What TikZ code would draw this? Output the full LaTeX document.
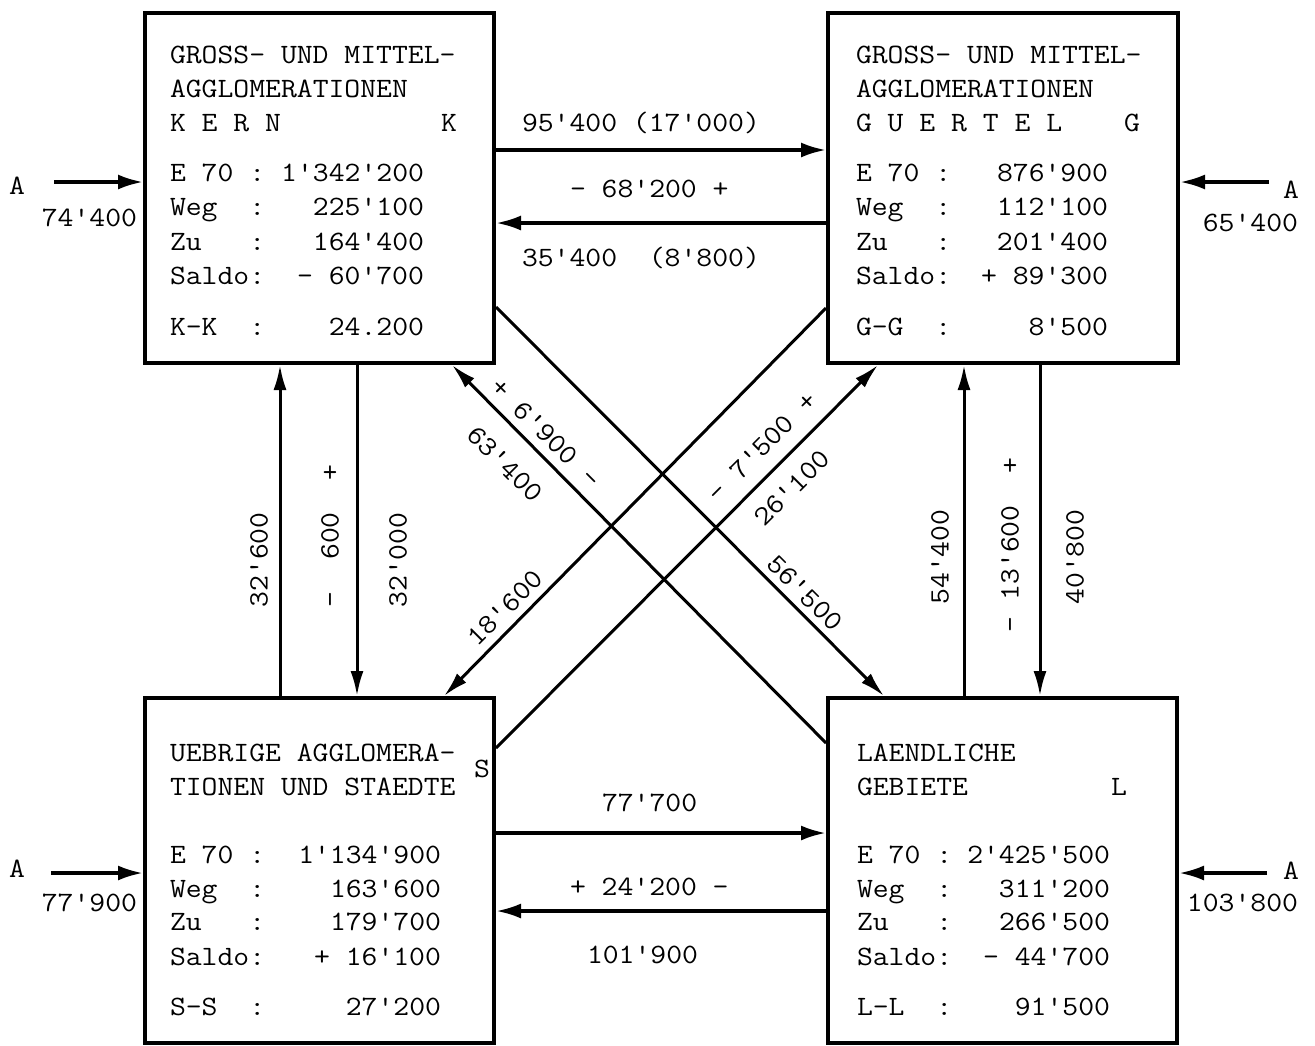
\documentclass[tikz,border=0pt]{standalone}
\usepackage{fontspec}
\setmonofont{Latin Modern Mono}[FakeStretch=1.1]
\usetikzlibrary{arrows.meta}
\tikzset{
  box/.style={draw, line width=4pt, inner sep=0pt, outer sep=2pt},
  txt/.style={font=\ttfamily\fontsize{28}{34}\selectfont, inner sep=0pt, outer sep=0pt},
  hconn/.style={line width=3.5pt, -{Latex[length=25pt,width=15pt]}},
  conn/.style={line width=3pt, -{Latex[length=25pt,width=13pt]}},
}
\newcommand\trow[6]{%
  \node[txt,anchor=base west] (#1l) at (#2,#3) {#4};
  \node[txt,anchor=base east] (#1v) at (#5,#3) {#6};}
\begin{document}
\begin{tikzpicture}[x=1pt,y=-1pt]
\useasboundingbox (0,0) rectangle (1315,1045);

% boxes
\node[box, minimum width=349pt, minimum height=350pt] (K) at (319.5,188) {};
\node[box, minimum width=350pt, minimum height=350pt] (G) at (1003,188) {};
\node[box, minimum width=349pt, minimum height=345pt] (S) at (319.5,870.5) {};
\node[box, minimum width=349pt, minimum height=345pt] (L) at (1002.5,870.5) {};

% box K text
\node[txt,anchor=base west] (kh1) at (170,63) {GROSS- UND MITTEL-};
\node[txt,anchor=base west] (kh2) at (170,97) {AGGLOMERATIONEN};
\node[txt,anchor=base west] (kh3) at (170,131) {K E R N};
\node[txt,anchor=base east] (kh4) at (457,131) {K};
\trow{k1}{170}{181}{E 70 :}{424}{1'342'200}
\trow{k2}{170}{215}{Weg\ \ :}{424}{225'100}
\trow{k3}{170}{250}{Zu\ \ \ :}{424}{164'400}
\trow{k4}{170}{284}{Saldo:}{424}{- 60'700}
\trow{k5}{170}{335}{K-K\ \ :}{424}{24.200}

% box G text
\node[txt,anchor=base west] (gh1) at (856,63) {GROSS- UND MITTEL-};
\node[txt,anchor=base west] (gh2) at (856,97) {AGGLOMERATIONEN};
\node[txt,anchor=base west] (gh3) at (856,131) {G U E R T E L};
\node[txt,anchor=base east] (gh4) at (1140,131) {G};
\trow{g1}{856}{181}{E 70 :}{1108}{876'900}
\trow{g2}{856}{215}{Weg\ \ :}{1108}{112'100}
\trow{g3}{856}{250}{Zu\ \ \ :}{1108}{201'400}
\trow{g4}{856}{284}{Saldo:}{1108}{+ 89'300}
\trow{g5}{856}{335}{G-G\ \ :}{1108}{8'500}

% box S text
\node[txt,anchor=base west] (sh1) at (170,761) {UEBRIGE AGGLOMERA-};
\node[txt,anchor=base west] (sh2) at (170,795) {TIONEN UND STAEDTE};
\node[txt,anchor=base east] (sh3) at (490,777) {S};
\trow{s1}{170}{863}{E 70 :}{441}{1'134'900}
\trow{s2}{170}{897}{Weg\ \ :}{441}{163'600}
\trow{s3}{170}{930}{Zu\ \ \ :}{441}{179'700}
\trow{s4}{170}{965}{Saldo:}{441}{+ 16'100}
\trow{s5}{170}{1015}{S-S\ \ :}{441}{27'200}

% box L text
\node[txt,anchor=base west] (lh1) at (857,761) {LAENDLICHE};
\node[txt,anchor=base west] (lh2) at (857,795) {GEBIETE};
\node[txt,anchor=base east] (lh3) at (1127,795) {L};
\trow{l1}{857}{863}{E 70 :}{1110}{2'425'500}
\trow{l2}{857}{897}{Weg\ \ :}{1110}{311'200}
\trow{l3}{857}{930}{Zu\ \ \ :}{1110}{266'500}
\trow{l4}{857}{965}{Saldo:}{1110}{- 44'700}
\trow{l5}{857}{1015}{L-L\ \ :}{1110}{91'500}

% helper coordinates
\coordinate (hKG) at (0,150);
\coordinate (hGK) at (0,223);
\coordinate (hSL) at (0,833);
\coordinate (hLS) at (0,911);
\coordinate (v1) at (280,0);
\coordinate (v2) at (357,0);
\coordinate (v3) at (964,0);
\coordinate (v4) at (1040,0);
\coordinate (d1s) at (0,307);
\coordinate (d1e) at (884,0);
\coordinate (d2s) at (0,743);
\coordinate (d2e) at (452,0);
\coordinate (d3s) at (0,308);
\coordinate (d3e) at (444,0);
\coordinate (d4s) at (0,748);
\coordinate (d4e) at (878,0);
\coordinate (aK) at (54,182);
\coordinate (aG) at (1269,182);
\coordinate (aS) at (51,873);
\coordinate (aL) at (1267,873);

% horizontal connectors
\draw[hconn] (K.east |- hKG) -- (G.west |- hKG);
\draw[hconn] (G.west |- hGK) -- (K.east |- hGK);
\draw[hconn] (S.east |- hSL) -- (L.west |- hSL);
\draw[hconn] (L.west |- hLS) -- (S.east |- hLS);

% vertical connectors
\draw[conn] (S.north -| v1) -- (K.south -| v1);
\draw[conn] (K.south -| v2) -- (S.north -| v2);
\draw[conn] (L.north -| v3) -- (G.south -| v3);
\draw[conn] (G.south -| v4) -- (L.north -| v4);

% diagonal connectors
\draw[conn] (K.east |- d1s) -- (L.north -| d1e);
\draw[conn] (L.west |- d2s) -- (K.south -| d2e);
\draw[conn] (G.west |- d3s) -- (S.north -| d3e);
\draw[conn] (S.east |- d4s) -- (G.south -| d4e);

% external arrows
\draw[hconn] (aK) -- (K.west |- aK);
\draw[hconn] (aG) -- (G.east |- aG);
\draw[hconn] (aS) -- (S.west |- aS);
\draw[hconn] (aL) -- (L.east |- aL);
\node[txt] (aKt) at (17,186) {A};
\node[txt,anchor=base east] (aKn) at (137,226) {74'400};
\node[txt] (aGt) at (1291,190) {A};
\node[txt,anchor=base east] (aGn) at (1298,231) {65'400};
\node[txt] (aSt) at (17,869) {A};
\node[txt,anchor=base east] (aSn) at (137,911) {77'900};
\node[txt] (aLt) at (1291,871) {A};
\node[txt,anchor=base east] (aLn) at (1298,911) {103'800};

% horizontal labels
\node[txt,anchor=base west] (lb1) at (522,131) {95'400 (17'000)};
\node[txt,anchor=base west] (lb2) at (570,197) {- 68'200 +};
\node[txt,anchor=base west] (lb3) at (522,266) {35'400\ \ (8'800)};
\node[txt,anchor=base west] (lb4) at (602,811) {77'700};
\node[txt,anchor=base west] (lb5) at (570,895) {+ 24'200 -};
\node[txt,anchor=base west] (lb6) at (587,963) {101'900};

% vertical labels
\node[txt,rotate=90] (lv1) at (259,560) {32'600};
\node[txt,rotate=90] (lv2) at (330,536) {-\ \ 600\ \ +};
\node[txt,rotate=90] (lv3) at (398,560) {32'000};
\node[txt,rotate=90] (lv4) at (940,557) {54'400};
\node[txt,rotate=90] (lv5) at (1010,545) {- 13'600\ \ +};
\node[txt,rotate=90] (lv6) at (1075,557) {40'800};

% diagonal labels
\node[txt,rotate=-45] (ld1) at (546,433) {+ 6'900 -};
\node[txt,rotate=-45] (ld2) at (505,464) {63'400};
\node[txt,rotate=-45] (ld3) at (805,593) {56'500};
\node[txt,rotate=45] (ld4) at (505,608) {18'600};
\node[txt,rotate=45] (ld5) at (762,447) {- 7'500 +};
\node[txt,rotate=45] (ld6) at (792,488) {26'100};
\end{tikzpicture}
\end{document}
